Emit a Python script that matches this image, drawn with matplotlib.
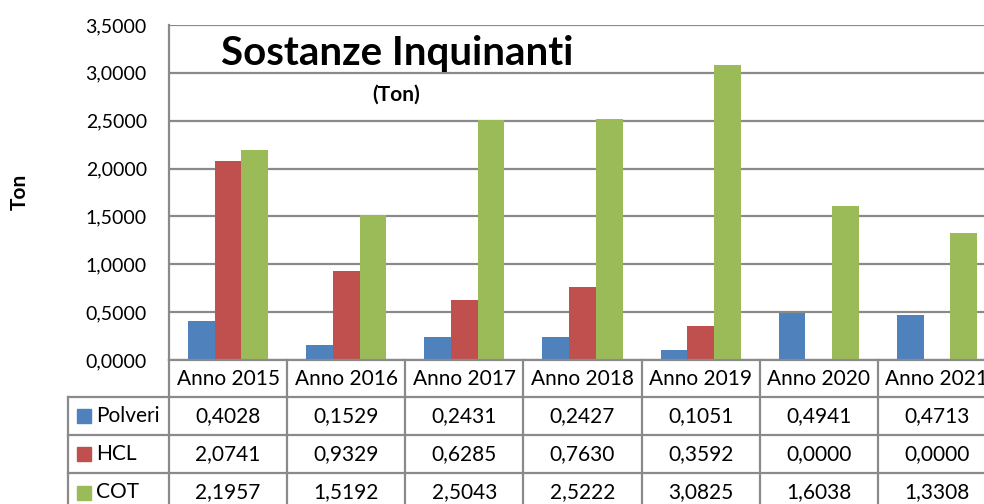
import matplotlib
matplotlib.use("Agg")
import matplotlib.pyplot as plt
from matplotlib.ticker import FuncFormatter
from matplotlib.transforms import blended_transform_factory
from matplotlib.patches import Rectangle

plt.rcParams['font.family'] = ['Lato', 'DejaVu Sans']

# dati
anni = ["Anno 2015", "Anno 2016", "Anno 2017", "Anno 2018", "Anno 2019", "Anno 2020", "Anno 2021"]
serie = ["Polveri", "HCL", "COT"]
polveri = [0.4028, 0.1529, 0.2431, 0.2427, 0.1051, 0.4941, 0.4713]
hcl = [2.0741, 0.9329, 0.6285, 0.7630, 0.3592, 0.0000, 0.0000]
cot = [2.1957, 1.5192, 2.5043, 2.5222, 3.0825, 1.6038, 1.3308]
colori = ["#4F81BD", "#C0504D", "#9BBB59"]
valori = [polveri, hcl, cot]


def virgola(v, pos=None):
    return f"{v:.4f}".replace(".", ",")


W, H = 984, 504
GRID = "#8a8a8a"

fig = plt.figure(figsize=(W / 100, H / 100), dpi=100)
ax = fig.add_axes([169 / W, 1 - 360 / H, (996 - 169) / W, (360 - 25) / H])

x = list(range(len(anni)))
bw = 0.226
for i, (vals, col) in enumerate(zip(valori, colori)):
    ax.bar([k + (i - 1) * bw for k in x], vals, width=bw, color=col, zorder=2)

ax.set_xlim(-0.5, len(anni) - 0.5)
ax.set_ylim(0, 3.5)
ax.set_yticks([0, 0.5, 1, 1.5, 2, 2.5, 3, 3.5])
ax.yaxis.set_major_formatter(FuncFormatter(virgola))
ax.set_xticks([])
ax.tick_params(axis="y", length=0, labelsize=14, pad=16)
ax.yaxis.grid(True, color=GRID, lw=1.6)
ax.set_axisbelow(True)
for s in ["top", "right", "bottom"]:
    ax.spines[s].set_visible(False)
ax.spines["left"].set_color(GRID)
ax.spines["left"].set_linewidth(1.6)

# titolo
fig.text(397 / W, 1 - 54 / H, "Sostanze Inquinanti", fontsize=29, fontweight="bold",
         ha="center", va="center")
fig.text(396 / W, 1 - 95 / H, "(Ton)", fontsize=15, fontweight="bold", ha="center", va="center")
fig.text(20 / W, 1 - 192 / H, "Ton", fontsize=15, fontweight="bold", rotation=90,
         ha="center", va="center")

# tabella dati
tr = blended_transform_factory(ax.transData, fig.transFigure)


def fy(px):
    return 1 - px / H


xl = -0.5 - (169 - 68) / 118.2
righe = [360, 397, 435, 473, 512]
for y in righe[1:-1]:
    ax.plot([xl, len(anni) - 0.5], [fy(y), fy(y)], color=GRID, lw=1.6,
            transform=tr, clip_on=False)
ax.plot([-0.5, len(anni) - 0.5], [fy(360), fy(360)], color=GRID, lw=1.6,
        transform=tr, clip_on=False)
for k in range(len(anni) + 1):
    ax.plot([k - 0.5, k - 0.5], [fy(360), fy(512)], color=GRID, lw=1.6,
            transform=tr, clip_on=False)
ax.plot([xl, xl], [fy(397), fy(512)], color=GRID, lw=1.6, transform=tr, clip_on=False)

for k, a in enumerate(anni):
    ax.text(k, fy(379), a, transform=tr, ha="center", va="center", fontsize=15, clip_on=False)

for r, (nome, vals, col) in enumerate(zip(serie, valori, colori)):
    yc = (righe[r + 1] + righe[r + 2]) / 2
    fig.add_artist(Rectangle((77 / W, fy(yc + 7)), 14 / W, 14 / H,
                             transform=fig.transFigure, color=col))
    fig.text(96 / W, fy(yc), nome, fontsize=15, ha="left", va="center")
    for k, v in enumerate(vals):
        ax.text(k, fy(yc), virgola(v), transform=tr, ha="center", va="center",
                fontsize=15, clip_on=False)

fig.savefig("out.png", dpi=100)
